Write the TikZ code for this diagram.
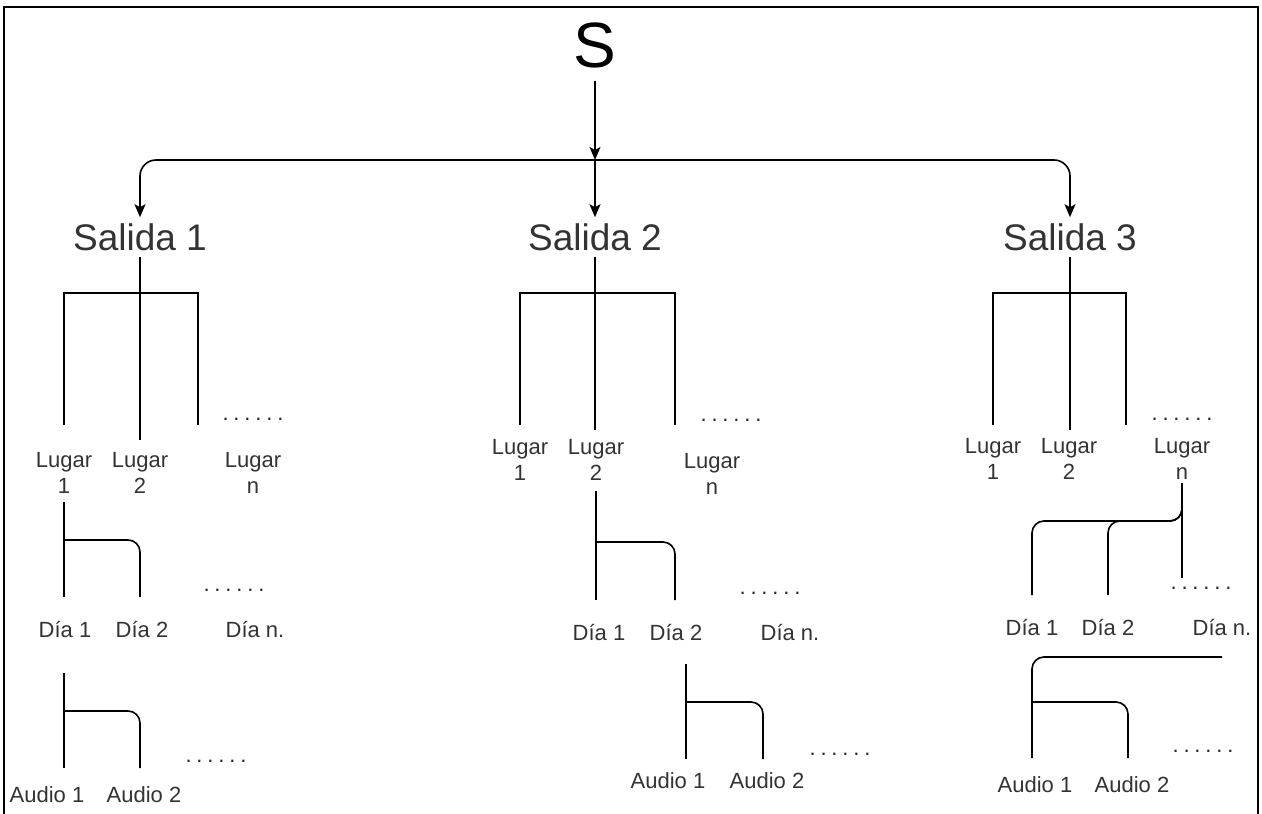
\documentclass[tikz,border=0pt]{standalone}
\usepackage{fontspec}
\setmainfont{Liberation Sans}
\newfontfamily\dotsfont[LetterSpace=22]{Liberation Sans}
\usepackage{tikz}
\usetikzlibrary{arrows.meta}

\begin{document}
\begin{tikzpicture}[
  x=1pt,
  y=-1pt,
  >={Stealth[length=13pt,width=11pt,inset=3pt]},
  every node/.style={align=center, text=black!80, inner sep=0pt},
  root/.style={font=\fontsize{64}{70}\selectfont, text=black, inner sep=13pt},
  salida/.style={font=\fontsize{37}{44}\selectfont, inner sep=6pt},
  item/.style={font=\fontsize{22}{26}\selectfont},
  more/.style={font=\dotsfont\fontsize{22}{26}\selectfont, text=black!85},
  link/.style={line width=1.6pt},
  curved/.style={line width=1.6pt, rounded corners=12pt},
  arr/.style={->, line width=1.6pt, rounded corners=16pt},
  frame/.style={line width=2.2pt}
]
\useasboundingbox (0,0) rectangle (1262,814);
\draw[frame] (4,814) -- (4,7) -- (1258,7) -- (1258,814);

% root and outputs
\node[root] (s) at (595,45) {S};
\coordinate (hub) at (595,160);
\node[salida] (sal1) at (140,237) {Salida 1};
\node[salida] (sal2) at (595,237) {Salida 2};
\node[salida] (sal3) at (1070,237) {Salida 3};

\draw[arr] (s.south) -- (hub);
\draw[arr] (hub) -| (sal1.north);
\draw[arr] (hub) -- (sal2.north);
\draw[arr] (hub) -| (sal3.north);

% Salida 1
\node[item] (lugA1) at (64,473) {Lugar\\1};
\node[item] (lugA2) at (140,473) {Lugar\\2};
\node[item] (lugAn) at (253,473) {Lugar\\n};
\node[more] (dotA1) at (253,419) {......};
\coordinate (tipA) at (198,425);
\draw[link] (sal1.south) -- (lugA2 |- 0,440);
\draw[link] (lugA1 |- 0,425) |- (tipA |- 0,293) -- (tipA);

\node[item] (diaA1) at (65,630) {Día 1};
\node[item] (diaA2) at (142,630) {Día 2};
\node[item] (diaAn) at (255,630) {Día n.};
\node[more] (dotA2) at (234,590) {......};
\draw[link] (lugA1 |- 0,502) -- (lugA1 |- 0,597);
\draw[curved] (lugA1 |- 0,540) -| (lugA2 |- 0,597);

\node[item] (audA1) at (47,795) {Audio 1};
\node[item] (audA2) at (144,795) {Audio 2};
\node[more] (dotA3) at (216,761) {......};
\draw[link] (lugA1 |- 0,673) -- (lugA1 |- 0,768);
\draw[curved] (lugA1 |- 0,711) -| (lugA2 |- 0,768);

% Salida 2
\node[item] (lugB1) at (520,460) {Lugar\\1};
\node[item] (lugB2) at (596,460) {Lugar\\2};
\node[item] (lugBn) at (712,474) {Lugar\\n};
\node[more] (dotB1) at (731,420) {......};
\coordinate (tipB) at (675,425);
\draw[link] (sal2.south) -- (sal2.south |- 0,430);
\draw[link] (lugB1 |- 0,425) |- (tipB |- 0,293) -- (tipB);

\node[item] (diaB1) at (599,633) {Día 1};
\node[item] (diaB2) at (676,633) {Día 2};
\node[item] (diaBn) at (790,633) {Día n.};
\node[more] (dotB2) at (770,593) {......};
\draw[link] (lugB2 |- 0,491) -- (lugB2 |- 0,600);
\draw[curved] (lugB2 |- 0,542) -| (tipB |- 0,600);

\node[item] (audB1) at (668,781) {Audio 1};
\node[item] (audB2) at (767,781) {Audio 2};
\node[more] (dotB3) at (840,754) {......};
\draw[link] (686,664) -- (686,759);
\draw[curved] (686,702) -| (763,759);

% Salida 3
\node[item] (lugC1) at (993,459) {Lugar\\1};
\node[item] (lugC2) at (1069,459) {Lugar\\2};
\node[item] (lugCn) at (1182,459) {Lugar\\n};
\node[more] (dotC1) at (1182,419) {......};
\coordinate (tipC) at (1126,425);
\draw[link] (sal3.south) -- (sal3.south |- 0,430);
\draw[link] (lugC1 |- 0,425) |- (tipC |- 0,293) -- (tipC);

\node[item] (diaC1) at (1032,628) {Día 1};
\node[item] (diaC2) at (1108,628) {Día 2};
\node[item] (diaCn) at (1222,628) {Día n.};
\node[more] (dotC2) at (1201,588) {......};
\draw[link] (lugCn |- 0,483) -- (lugCn |- 0,578);
\draw[curved] (lugCn |- 0,483) |- (diaC2 |- 0,521) -- (diaC2 |- 0,595);
\draw[curved] (lugCn |- 0,483) |- (diaC1 |- 0,521) -- (diaC1 |- 0,595);

\node[item] (audC1) at (1035,785) {Audio 1};
\node[item] (audC2) at (1132,785) {Audio 2};
\node[more] (dotC3) at (1203,751) {......};
\draw[curved] (diaCn |- 0,657) -| (diaC1 |- 0,758);
\draw[curved] (diaC1 |- 0,702) -| (1128,758);
\end{tikzpicture}
\end{document}
